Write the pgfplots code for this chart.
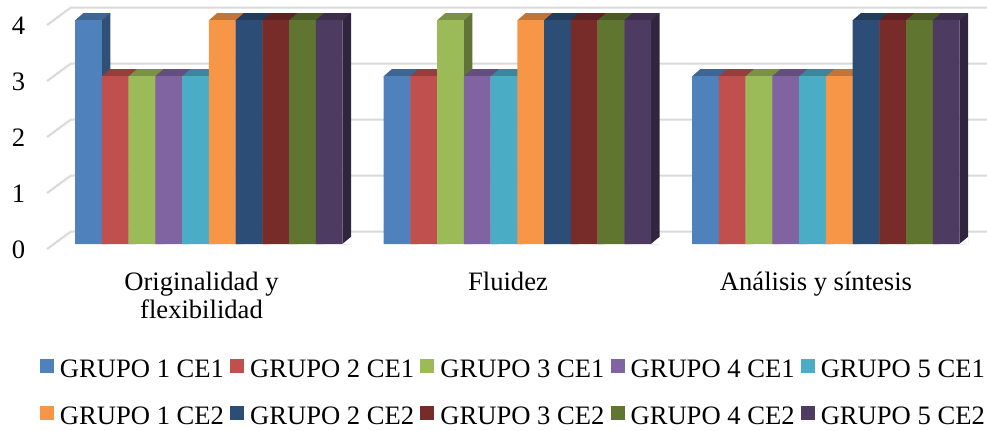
\documentclass[border=0pt]{standalone}
\usepackage{pgfplots}
\usepackage{pgfplotstable}
\pgfplotsset{compat=1.18}
\usepackage{fontspec}
\setmainfont{Liberation Serif}

% Office 2007 palette: accents and their darker variants
\definecolor{c1}{HTML}{4F81BD}
\definecolor{c2}{HTML}{C0504D}
\definecolor{c3}{HTML}{9BBB59}
\definecolor{c4}{HTML}{8064A2}
\definecolor{c5}{HTML}{4BACC6}
\definecolor{c6}{HTML}{F79646}
\definecolor{c7}{HTML}{2C4D75}
\definecolor{c8}{HTML}{772C2A}
\definecolor{c9}{HTML}{5F7530}
\definecolor{c10}{HTML}{4D3B62}
\definecolor{gridc}{HTML}{D9D9D9}

% scores per criterion (cat 0,1,2) for the ten groups
\pgfplotstableread{
cat s1 s2 s3 s4 s5 s6 s7 s8 s9 s10
0   4  3  3  3  3  4  4  4  4  4
1   3  3  4  3  3  4  4  4  4  4
2   3  3  3  3  3  3  4  4  4  4
}\scores

% top face of a bar (front edge centred on the plotted point)
\pgfdeclareplotmark{topface}{%
  \pgfpathmoveto{\pgfpoint{-6.6875pt}{-0.2pt}}%
  \pgfpathlineto{\pgfpoint{6.6875pt}{-0.2pt}}%
  \pgfpathlineto{\pgfpoint{10.9375pt}{3.5pt}}%
  \pgfpathlineto{\pgfpoint{-2.4375pt}{3.5pt}}%
  \pgfpathclose\pgfusepathqfill}
% trims the lower corner of the side face to a slanted edge
\pgfdeclareplotmark{floorcut}{%
  \pgfpathmoveto{\pgfpoint{0pt}{0pt}}%
  \pgfpathlineto{\pgfpoint{4.6pt}{-0.3pt}}%
  \pgfpathlineto{\pgfpoint{4.6pt}{3.5pt}}%
  \pgfpathlineto{\pgfpoint{4.25pt}{3.5pt}}%
  \pgfpathclose\pgfusepathqfill}

\newcommand\lblfont{\fontsize{13.3}{16}\selectfont}

\begin{document}
\begin{tikzpicture}
\begin{axis}[
  scale only axis, width=493.5pt, height=215pt,
  xmin=0, xmax=987, ymin=-3.32143, ymax=4.35714,
  hide axis, clip=false, clip marker paths=true,
  legend image code/.code={\fill[#1, draw=none] (0pt,-1pt) rectangle (7pt,6pt);},
  legend columns=5,
  legend style={draw=none, fill=none, inner sep=0pt, outer sep=0pt,
    at={(axis cs:40,-2.055)}, anchor=north west,
    column sep=0pt, row sep=11.5pt, font=\lblfont,
    nodes={inner sep=0pt, text height=9pt, text depth=3pt}},
]
% back-wall gridlines with their slanted floor segments
\addplot[gridc, line width=1pt, forget plot] coordinates {(47,-0.09) (71,0.2232) (987,0.2232)};
\addplot[gridc, line width=1pt, forget plot] coordinates {(47,0.91) (71,1.2232) (987,1.2232)};
\addplot[gridc, line width=1pt, forget plot] coordinates {(47,1.91) (71,2.2232) (987,2.2232)};
\addplot[gridc, line width=1pt, forget plot] coordinates {(47,2.91) (71,3.2232) (987,3.2232)};
\addplot[gridc, line width=1pt, forget plot] coordinates {(47,3.91) (71,4.2232) (987,4.2232)};

% each group: side face, floor trim, top face, front face
\pgfplotsinvokeforeach{1,...,10}{
  \addplot[ybar, bar width=8.5, bar shift=0pt, fill=c#1!62!black, draw=none, forget plot]
    table[x expr=88.375+308.5*\thisrow{cat}+26.75*(#1-1)+17.625, y expr=\thisrow{s#1}+0.125]{\scores};
  \addplot[only marks, mark=floorcut, mark options={fill=white, draw=none}, forget plot]
    table[x expr=88.375+308.5*\thisrow{cat}+26.75*(#1-1)+13.375, y expr=0]{\scores};
  \addplot[only marks, mark=topface, mark options={fill=c#1!78!black, draw=none}, forget plot]
    table[x expr=88.375+308.5*\thisrow{cat}+26.75*(#1-1), y=s#1]{\scores};
  \addplot[ybar, bar width=26.75, bar shift=0pt, fill=c#1, draw=none, forget plot]
    table[x expr=88.375+308.5*\thisrow{cat}+26.75*(#1-1), y=s#1]{\scores};
}

\addlegendimage{fill=c1}\addlegendentry{\hspace*{3pt}\makebox[85.1pt][l]{GRUPO 1 CE1}}
\addlegendimage{fill=c2}\addlegendentry{\hspace*{3pt}\makebox[85.1pt][l]{GRUPO 2 CE1}}
\addlegendimage{fill=c3}\addlegendentry{\hspace*{3pt}\makebox[85.1pt][l]{GRUPO 3 CE1}}
\addlegendimage{fill=c4}\addlegendentry{\hspace*{3pt}\makebox[85.1pt][l]{GRUPO 4 CE1}}
\addlegendimage{fill=c5}\addlegendentry{\hspace*{3pt}\makebox[85.1pt][l]{GRUPO 5 CE1}}
\addlegendimage{fill=c6}\addlegendentry{\hspace*{3pt}\makebox[85.1pt][l]{GRUPO 1 CE2}}
\addlegendimage{fill=c7}\addlegendentry{\hspace*{3pt}\makebox[85.1pt][l]{GRUPO 2 CE2}}
\addlegendimage{fill=c8}\addlegendentry{\hspace*{3pt}\makebox[85.1pt][l]{GRUPO 3 CE2}}
\addlegendimage{fill=c9}\addlegendentry{\hspace*{3pt}\makebox[85.1pt][l]{GRUPO 4 CE2}}
\addlegendimage{fill=c10}\addlegendentry{\hspace*{3pt}\makebox[85.1pt][l]{GRUPO 5 CE2}}

% value axis labels
\node[font=\lblfont] at (axis cs:18.5,-0.107) {0};
\node[font=\lblfont] at (axis cs:18.5,0.893) {1};
\node[font=\lblfont] at (axis cs:18.5,1.893) {2};
\node[font=\lblfont] at (axis cs:18.5,2.893) {3};
\node[font=\lblfont] at (axis cs:18.5,3.893) {4};

% category labels
\node[font=\lblfont, anchor=base] at (axis cs:201.5,-0.839) {Originalidad y};
\node[font=\lblfont, anchor=base] at (axis cs:201.5,-1.339) {flexibilidad};
\node[font=\lblfont, anchor=base] at (axis cs:508,-0.839) {Fluidez};
\node[font=\lblfont, anchor=base] at (axis cs:816,-0.839) {Análisis y síntesis};

\coordinate (bl) at (rel axis cs:0,0);
\coordinate (tr) at (rel axis cs:1,1);
\end{axis}
\pgfresetboundingbox
\path (bl) rectangle (tr);
\end{tikzpicture}
\end{document}
